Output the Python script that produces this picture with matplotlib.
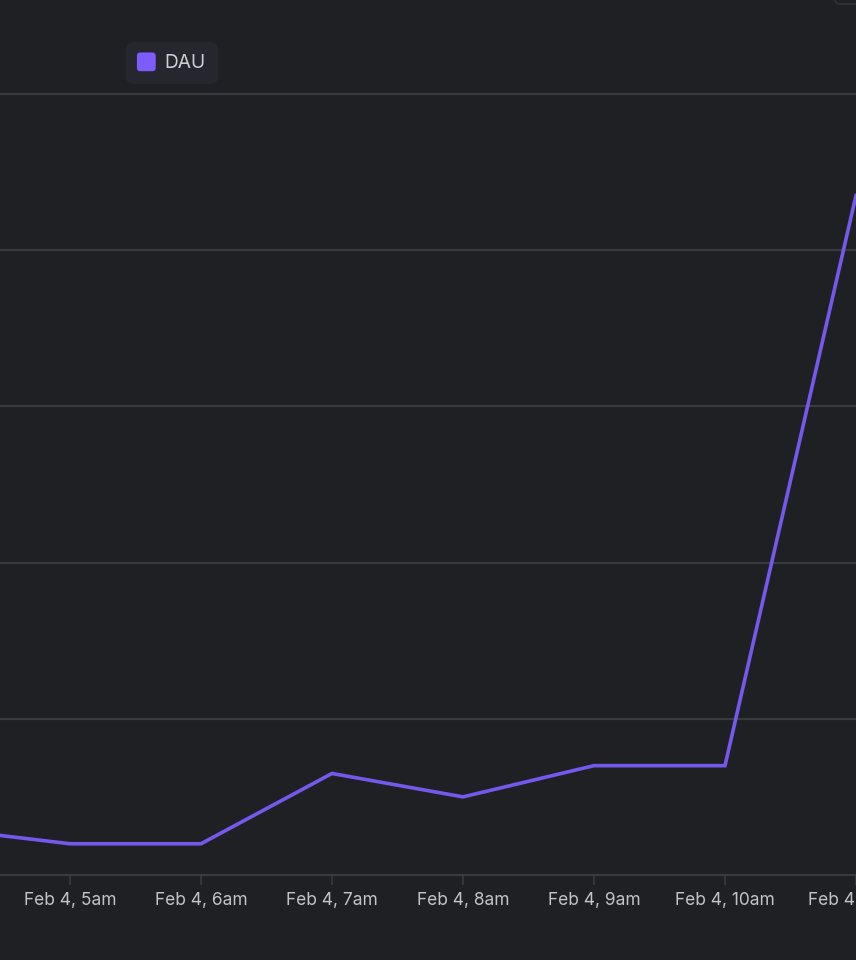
import matplotlib
matplotlib.use('Agg')
import matplotlib.pyplot as plt
from matplotlib.legend_handler import HandlerPatch
from matplotlib.patches import FancyBboxPatch, Patch

plt.rcParams['font.family'] = ['Inter', 'DejaVu Sans']

# hourly DAU
hours = [4, 5, 6, 7, 8, 9, 10, 11]
dau = [6, 4, 4, 13, 10, 14, 14, 87]
tick_hours = [5, 6, 7, 8, 9, 10, 11]
tick_labels = ['Feb 4, 5am', 'Feb 4, 6am', 'Feb 4, 7am', 'Feb 4, 8am',
               'Feb 4, 9am', 'Feb 4, 10am', 'Feb 4, 11am']
grid_values = [0, 20, 40, 60, 80, 100]

bg = '#1f2024'
grid_color = '#3a3b3f'
line_color = '#7559ec'
swatch_color = '#7c5cfc'
text_color = '#c4c4c6'


# legend swatch with soft corners
class RoundSwatch(HandlerPatch):
    def create_artists(self, legend, orig_handle, xdescent, ydescent, width, height,
                       fontsize, trans):
        size = width
        p = FancyBboxPatch((-xdescent, -ydescent + (height - size) / 2), size, size,
                           boxstyle='round,pad=0,rounding_size=2.4',
                           mutation_aspect=1, facecolor=orig_handle.get_facecolor(),
                           edgecolor='none', transform=trans)
        return [p]


fig = plt.figure(figsize=(8.56, 9.6), dpi=100, facecolor=bg)
# axes runs from the zero line (y=875px) to the top gridline (y=94px)
ax = fig.add_axes([0, 1 - 875 / 960, 1, (875 - 94) / 960], facecolor=bg)

ax.plot(hours, dau, color=line_color, linewidth=2.6, solid_joinstyle='miter')

ax.set_xlim(4.466, 11)
ax.set_ylim(0, 100)
ax.set_yticks(grid_values)
ax.set_xticks(tick_hours)
ax.set_xticklabels(tick_labels)
ax.grid(axis='y', color=grid_color, linewidth=1.6, clip_on=False)
ax.set_axisbelow(True)
ax.tick_params(axis='y', length=0, labelleft=False)
ax.tick_params(axis='x', length=7.5, width=1.4, color='#36373b', labelcolor=text_color,
               labelsize=12.5, pad=4.5)
for s in ax.spines.values():
    s.set_visible(False)

swatch = Patch(facecolor=swatch_color, label='DAU')
leg = fig.legend(handles=[swatch], handler_map={Patch: RoundSwatch()},
                 loc='center left', bbox_to_anchor=(126 / 856, 1 - 62.5 / 960),
                 frameon=True, fontsize=13.8, handlelength=0.98, handleheight=1.1,
                 handletextpad=0.47, borderpad=0.57, borderaxespad=0,
                 facecolor='#25262e', edgecolor='#25262e', labelcolor='#cfcfd2')
leg.get_frame().set_boxstyle('round', pad=0, rounding_size=0.4)
leg.get_frame().set_alpha(1)

# bit of a button showing in the top right corner
fig.add_artist(FancyBboxPatch((832 / 856, 1 - 4 / 960), 60 / 856, 40 / 960,
                              boxstyle='round,pad=0,rounding_size=0.008',
                              facecolor='none', edgecolor='#3a3b3f', linewidth=0.8,
                              transform=fig.transFigure))

fig.savefig('out.png', dpi=100, facecolor=bg)
